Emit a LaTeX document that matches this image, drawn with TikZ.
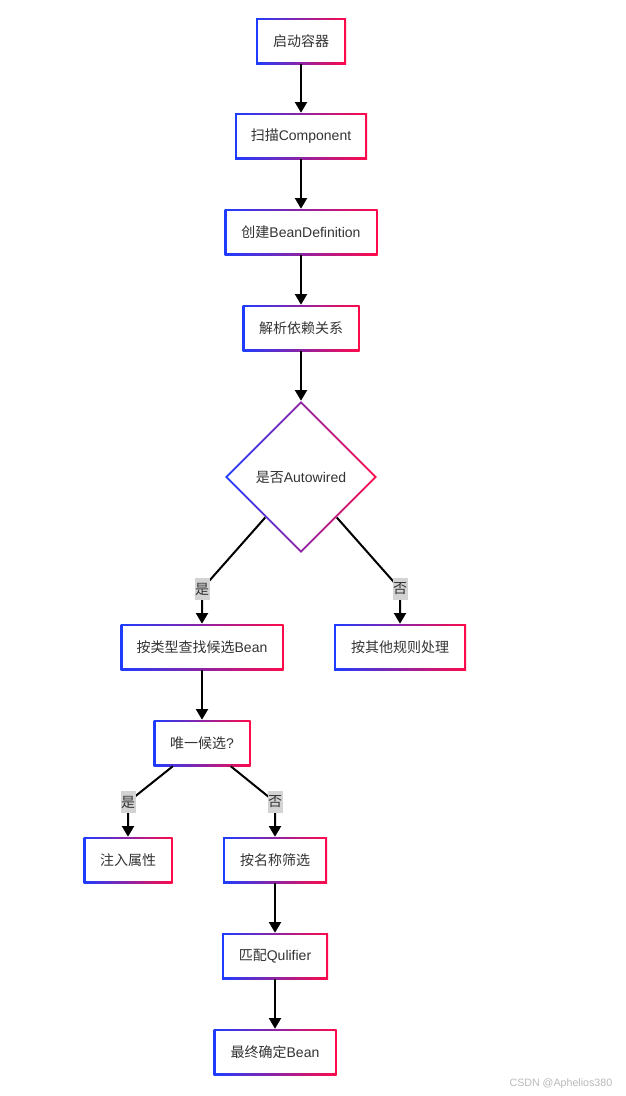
\documentclass[tikz,border=0pt]{standalone}
\usepackage{fontspec}
\setmainfont{Liberation Sans}
\newfontfamily\cjk{Noto Sans CJK SC}
\usepackage{xcolor}
\usepackage{tikz}
\usetikzlibrary{arrows.meta,shapes.geometric}

\definecolor{gradblue}{HTML}{1E3CFF}
\definecolor{gradred}{HTML}{FF0A4A}
\definecolor{textgray}{HTML}{333333}
\definecolor{lblgray}{HTML}{D3D3D3}
\newdimen\pxu \pxu=0.75pt

\begin{document}
\begin{tikzpicture}[x=0.75pt,y=-0.75pt,
  box/.style={rectangle, minimum height=46\pxu, inner sep=0pt,
    left color=gradblue, right color=gradred, text=textgray,
    font=\fontsize{10.5}{12}\selectfont,
    path picture={\fill[white] ([shift={(2\pxu,2\pxu)}]path picture bounding box.south west)
      rectangle ([shift={(-2\pxu,-2\pxu)}]path picture bounding box.north east);}},
  decision/.style={diamond, aspect=1, minimum width=152\pxu, minimum height=152\pxu,
    inner sep=0pt, left color=gradblue, right color=gradred, text=textgray,
    font=\fontsize{10.5}{12}\selectfont,
    path picture={\fill[white] ([yshift=-2.8\pxu]path picture bounding box.north)
      -- ([xshift=-2.8\pxu]path picture bounding box.east)
      -- ([yshift=2.8\pxu]path picture bounding box.south)
      -- ([xshift=2.8\pxu]path picture bounding box.west) -- cycle;}},
  link/.style={black, line width=1.5pt, -{Triangle[width=9pt,length=8pt]}},
  lbl/.style={fill=lblgray, text=textgray, inner sep=0pt, minimum width=15\pxu,
    minimum height=22\pxu, font=\cjk\fontsize{10.5}{12}\selectfont}]
\useasboundingbox[fill=white] (0,0) rectangle (625,1096);

% MAIN FLOW
  \node[box, minimum width=90\pxu]  (start)  at (301,41)  {\cjk 启动容器};
  \node[box, minimum width=132\pxu] (scan)   at (301,136) {{\cjk 扫描}Component};
  \node[box, minimum width=153\pxu] (create) at (301,232) {{\cjk 创建}BeanDefinition};
  \node[box, minimum width=117\pxu] (parse)  at (301,328) {\cjk 解析依赖关系};
  \node[decision]                   (auto)   at (301,477) {{\cjk 是否}Autowired};

% BRANCHES
  \node[box, minimum width=163\pxu] (bytype) at (202,647)  {{\cjk 按类型查找候选}Bean};
  \node[box, minimum width=132\pxu] (other)  at (400,647)  {\cjk 按其他规则处理};
  \node[box, minimum width=97\pxu]  (unique) at (202,743)  {{\cjk 唯一候选}?};
  \node[box, minimum width=89\pxu]  (inject) at (128,860)  {\cjk 注入属性};
  \node[box, minimum width=104\pxu] (byname) at (275,860)  {\cjk 按名称筛选};
  \node[box, minimum width=106\pxu] (qual)   at (275,956)  {{\cjk 匹配}Qulifier};
  \node[box, minimum width=123\pxu] (final)  at (275,1052) {{\cjk 最终确定}Bean};

% bends under the labels
  \coordinate (yes1) at (202,589);
  \coordinate (no1)  at (400,589);
  \coordinate (yes2) at (128,802);
  \coordinate (no2)  at (275,802);

% LINKS
  \draw[link] (start) -- (scan);
  \draw[link] (scan) -- (create);
  \draw[link] (create) -- (parse);
  \draw[link] (parse) -- (auto);
  \draw[link] (auto) -- (yes1) -- (bytype);
  \draw[link] (auto) -- (no1) -- (other);
  \draw[link] (bytype) -- (unique);
  \draw[link] (unique) -- (yes2) -- (inject);
  \draw[link] (unique) -- (no2) -- (byname);
  \draw[link] (byname) -- (qual);
  \draw[link] (qual) -- (final);

% labels
  \node[lbl] (l1) at (yes1) {是};
  \node[lbl] (l2) at (no1)  {否};
  \node[lbl] (l3) at (yes2) {是};
  \node[lbl] (l4) at (no2)  {否};

  \node[anchor=east, text=gray!55, font=\fontsize{8}{9}\selectfont] (mark) at (617,1084) {CSDN @Aphelios380};
\end{tikzpicture}
\end{document}
